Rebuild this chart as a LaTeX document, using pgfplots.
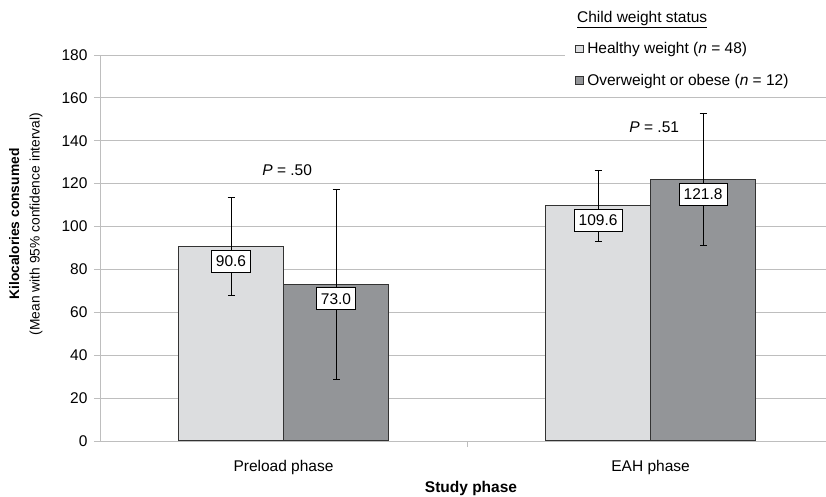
\documentclass[border=0pt]{standalone}
\usepackage{fontspec}
\setmainfont{Liberation Sans}
\usepackage{pgfplots}
\pgfplotsset{compat=1.18}
\definecolor{hw}{HTML}{DCDDDF}
\definecolor{ow}{HTML}{939598}
\definecolor{gridc}{HTML}{BEBEBE}
\definecolor{bard}{HTML}{333333}
\begin{document}
\begin{tikzpicture}
\begin{axis}[
  scale only axis, width=726pt, height=386pt,
  xmin=-0.5, xmax=1.478, ymin=0, ymax=180,
  ytick={0,20,...,180},
  ymajorgrids, grid style={gridc, line width=0.8pt},
  axis x line*=bottom, axis y line*=left,
  axis line style={gridc, line width=0.8pt},
  tick style={gridc, line width=0.8pt},
  tick align=outside, major tick length=6pt,
  xtick={0.5}, xticklabels={},
  extra x ticks={0,1}, extra x tick labels={Preload phase, EAH phase},
  extra x tick style={major tick length=0pt, xticklabel style={yshift=-16pt}},
  yticklabel style={xshift=-3pt},
  ybar=0pt, bar width=105pt,
  clip=false,
  font=\fontsize{15.5}{18}\selectfont,
  /pgf/number format/assume math mode=true,
  xlabel={\textbf{Study phase}},
  xlabel style={at={(axis description cs:0.511,0)}, anchor=center, yshift=-47pt},
  ylabel={{\bfseries Kilocalories consumed}\\(Mean with 95\% confidence interval)},
  ylabel style={align=center, font=\fontsize{13.8}{20.5}\selectfont, at={(axis description cs:-0.0744,0.562)}, anchor=south},
  legend style={at={(rel axis cs:0.653,1.038)}, anchor=north west, draw=none, fill=white, cells={anchor=west}, row sep=15pt, inner sep=0pt, font=\fontsize{15.5}{18}\selectfont},
  legend image code/.code={\path (0pt,0pt) (10pt,0pt); \draw[#1, line width=0.8pt, draw=bard] (1pt,-3.8pt) rectangle (8.5pt,3.8pt);},
  nodes near coords={\pgfmathprintnumber[fixed,fixed zerofill,precision=1]{\pgfplotspointmeta}},
  every node near coord/.append style={anchor=north, yshift=-3pt, draw=black, fill=white, text=black, inner xsep=4.5pt, inner ysep=5.5pt, line width=0.8pt, font=\fontsize{15.5}{18}\selectfont},
]
\fill[white] (rel axis cs:0.64,0.905) rectangle (rel axis cs:1.0,1.2);
\addplot[fill=hw, draw=bard, line width=1pt,
  error bars/.cd, y dir=both, y explicit, error mark=-,
  error bar style={black, line width=1pt},
  error mark options={rotate=90, black, mark size=3.5pt, line width=1pt}]
  coordinates {(0,90.6) += (0,22.9) -= (0,22.8) (1,109.6) += (0,16.5) -= (0,16.5)};
\addlegendentry{Healthy weight (\textit{n} = 48)}
\addplot[fill=ow, draw=bard, line width=1pt,
  error bars/.cd, y dir=both, y explicit, error mark=-,
  error bar style={black, line width=1pt},
  error mark options={rotate=90, black, mark size=3.5pt, line width=1pt}]
  coordinates {(0,73.0) += (0,44.4) -= (0,44.5) (1,121.8) += (0,30.9) -= (0,30.7)};
\addlegendentry{Overweight or obese (\textit{n} = 12)}
\node[font=\fontsize{15.5}{18}\selectfont] at (axis cs:0.01,126.5) {\textit{P} = .50};
\node[font=\fontsize{15.5}{18}\selectfont] at (axis cs:1.01,146.5) {\textit{P} = .51};
\node[anchor=west, font=\fontsize{15.5}{18}\selectfont, inner sep=0pt] at (rel axis cs:0.657,1.093) {\underline{Child weight status}};
\end{axis}
\pgfresetboundingbox
\path[use as bounding box] (-100pt,-56pt) rectangle (726pt,441pt);
\end{tikzpicture}
\end{document}
